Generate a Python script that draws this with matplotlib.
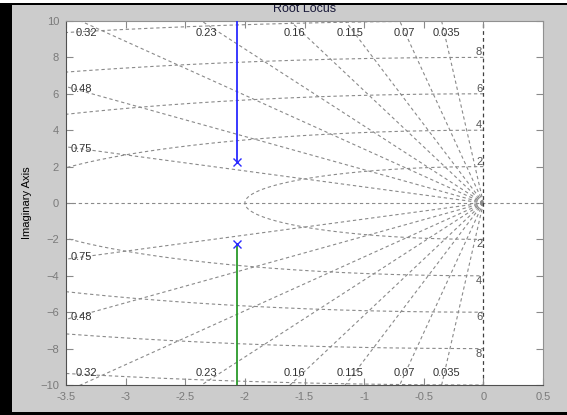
import matplotlib
matplotlib.use('Agg')
import matplotlib.pyplot as plt
from matplotlib.patches import Rectangle
import numpy as np

# damping ratios and natural frequencies for the s-plane grid
zeta_vals = [0.035, 0.07, 0.115, 0.16, 0.23, 0.32, 0.48, 0.75]
zeta_labels = ['0.035', '0.07', '0.115', '0.16', '0.23', '0.32', '0.48', '0.75']
wn_vals = [2, 4, 6, 8, 10]
wn_labels = ['2', '4', '6', '8', '']

# complex pole pair and the two locus branches (vertical asymptotes)
pole_re = -2.07
pole_im = 2.27
branch_end = 12.0

x_ticks = [-3.5, -3, -2.5, -2, -1.5, -1, -0.5, 0, 0.5]
x_ticklabels = ['-3.5', '-3', '-2.5', '-2', '-1.5', '-1', '-0.5', '0', '0.5']
y_ticks = [-10, -8, -6, -4, -2, 0, 2, 4, 6, 8, 10]

plt.rcParams['font.family'] = ['Liberation Sans', 'DejaVu Sans']

fig = plt.figure(figsize=(5.67, 4.15), dpi=100, facecolor='#cccccc')
ax = fig.add_axes([0.1164, 0.0723, 0.8413, 0.8771])
ax.set_xlim(-3.5, 0.5)
ax.set_ylim(-10, 10)

grid_kw = dict(color='#8a8a8a', lw=0.8, ls=(0, (3, 2.5)), zorder=1)

# constant damping rays
R = 30.0
for z in zeta_vals:
    wd = np.sqrt(1 - z**2)
    ax.plot([0, -z*R], [0, wd*R], **grid_kw)
    ax.plot([0, -z*R], [0, -wd*R], **grid_kw)

# constant natural frequency arcs
th = np.linspace(np.pi/2, 3*np.pi/2, 400)
for w in wn_vals:
    ax.plot(w*np.cos(th), w*np.sin(th), **grid_kw)

# real and imaginary axes
ax.plot([-3.5, 0.5], [0, 0], **grid_kw)
ax.plot([0, 0], [-10, 10], color='#404040', lw=0.9, ls=(0, (3, 2.5)), zorder=1)

# damping labels
lbl_kw = dict(fontsize=8, color='#333333', zorder=3)
for z, s in zip(zeta_vals, zeta_labels):
    wd = np.sqrt(1 - z**2)
    xtop = -10*z/wd
    if xtop >= -3.5:
        xl = max(xtop + 0.04, -3.33)
        ax.text(xl, 9.35, s, ha='center', va='center', **lbl_kw)
        ax.text(xl, -9.35, s, ha='center', va='center', **lbl_kw)
    else:
        yl = 3.5*wd/z - 0.12
        ax.text(-3.46, yl, s, ha='left', va='center', **lbl_kw)
        ax.text(-3.46, -yl, s, ha='left', va='center', **lbl_kw)

# natural frequency labels along the imaginary axis
for w, s in zip(wn_vals, wn_labels):
    if s:
        ax.text(-0.01, w, s, ha='right', va='bottom', fontsize=8, color='#555555', zorder=3)
        ax.text(-0.01, -w, s, ha='right', va='top', fontsize=8, color='#555555', zorder=3)

# root locus branches
ax.plot([pole_re, pole_re], [pole_im, branch_end], color='#2a2aff', lw=1.3, zorder=4)
ax.plot([pole_re, pole_re], [-pole_im, -branch_end], color='#2a9a2a', lw=1.3, zorder=4)
ax.plot([pole_re, pole_re], [pole_im, -pole_im], ls='none', marker='x',
        ms=6, mew=1.0, color='#2a2aff', zorder=5)

ax.set_xticks(x_ticks)
ax.set_xticklabels(x_ticklabels)
ax.set_yticks(y_ticks)
ax.tick_params(direction='in', length=5, width=0.8, colors='#8a8a8a',
               labelcolor='#7a7a7a', labelsize=8, top=True, right=True, pad=5)
for side in ['left', 'bottom']:
    ax.spines[side].set_color('#505050')
for side in ['top', 'right']:
    ax.spines[side].set_color('#909090')
ax.set_ylabel('Imaginary Axis', fontsize=8, color='black', labelpad=6)

fig.text(0.5379, 1 - 11.5/415, 'Root Locus', ha='center', va='baseline',
         fontsize=9, color='#1a1a3a', zorder=3)

# screenshot frame: white strip, dark border lines
W, H = 567.0, 415.0
fig.patches.append(Rectangle((0, 1 - 3.5/H), 1, 3.5/H, transform=fig.transFigure,
                             facecolor='white', edgecolor='none', zorder=6))
fig.patches.append(Rectangle((0, 1 - 5.2/H), 1, 1.7/H, transform=fig.transFigure,
                             facecolor='black', edgecolor='none', zorder=6))
fig.patches.append(Rectangle((0, 0), 12/W, 1 - 3.5/H, transform=fig.transFigure,
                             facecolor='black', edgecolor='none', zorder=6))
fig.patches.append(Rectangle((0, 0), 1, 3.5/H, transform=fig.transFigure,
                             facecolor='black', edgecolor='none', zorder=6))

plt.savefig('out.png', dpi=100, facecolor=fig.get_facecolor())
